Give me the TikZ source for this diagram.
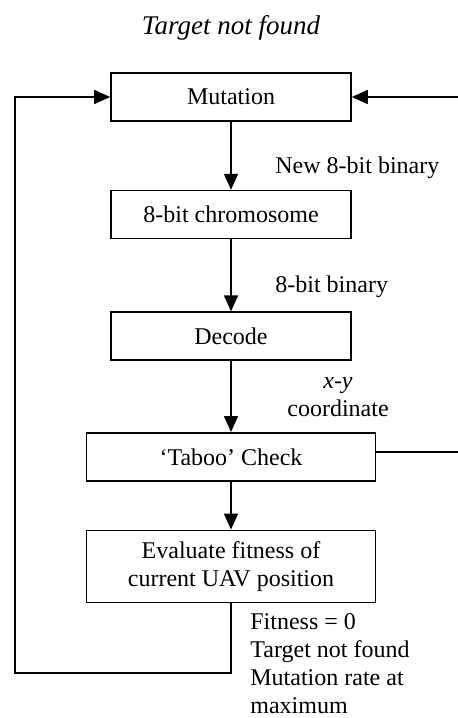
\documentclass[tikz,border=0pt]{standalone}
\usepackage{fontspec}
\setmainfont{Liberation Serif}
\usetikzlibrary{arrows.meta,positioning}

\begin{document}
\begin{tikzpicture}[
    every node/.style={font=\fontsize{12}{14}\selectfont},
    box/.style={draw, line width=0.8pt, align=center, inner sep=0pt, minimum width=120pt, minimum height=24pt},
    widebox/.style={box, minimum width=144.5pt},
    label/.style={align=left, inner sep=0pt},
    flow/.style={-{Triangle[length=8pt, width=7pt]}, line width=0.8pt},
    plain/.style={line width=0.8pt}
]
\useasboundingbox (0,0) rectangle (229pt,-359pt);
\node[font=\fontsize{13.5}{16}\selectfont\itshape] (title) at (115.5pt,-14pt) {Target not found};
\node[box] (mutation) at (115.5pt,-48.5pt) {Mutation};
\node[box, below=34pt of mutation] (chromosome) {8-bit chromosome};
\node[box, below=36pt of chromosome] (decode) {Decode};
\node[widebox, below=35.5pt of decode] (taboo) {`Taboo' Check};
\node[widebox, minimum height=36pt, below=24pt of taboo] (evaluate) {Evaluate fitness of\\current UAV position};
\node[label, anchor=west] (newbinary) at (137.5pt,-84pt) {New 8-bit binary};
\node[label, anchor=west] (binary) at (137.5pt,-143.5pt) {8-bit binary};
\node[label, align=center] (xycoord) at (169pt,-198.5pt) {\textit{x-y}\\coordinate};
\node[label, anchor=north west] (fitness) at (125pt,-306.5pt) {Fitness = 0\\Target not found\\Mutation rate at\\maximum};
\coordinate (loopcorner) at (7.5pt,-336.5pt);
\coordinate (rightedge) at (229pt,0pt);
\draw[flow] (mutation) -- (chromosome);
\draw[flow] (chromosome) -- (decode);
\draw[flow] (decode) -- (taboo);
\draw[flow] (taboo) -- (evaluate);
\draw[flow] (evaluate.south) |- (loopcorner) |- (mutation.west);
\draw[flow] (rightedge |- mutation.east) -- (mutation.east);
\draw[plain] ([yshift=2.5pt]taboo.east) -- ([yshift=2.5pt]taboo.east -| rightedge);
\end{tikzpicture}
\end{document}
